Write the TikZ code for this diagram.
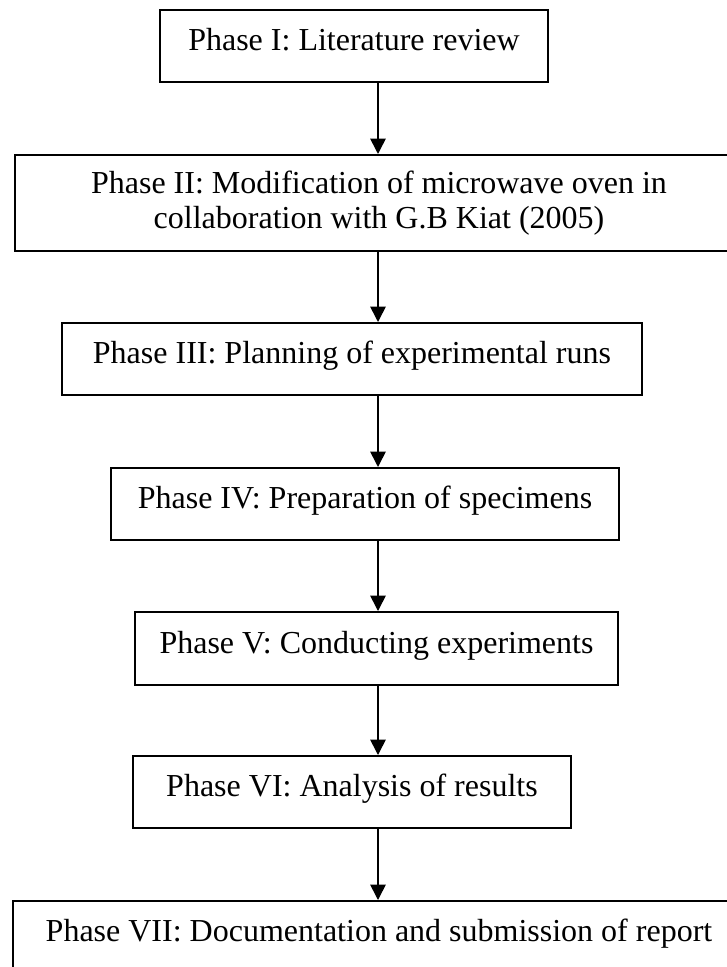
\documentclass[tikz,border=0pt]{standalone}
\usepackage{fontspec}
\setmainfont{Liberation Serif}
\usetikzlibrary{arrows.meta}
\begin{document}
\begin{tikzpicture}[x=0.75pt,y=-0.75pt,
  boxline/.style={draw, line width=1.5pt, font=\fontsize{24}{26.25}\selectfont},
  phasebox/.style={boxline, inner sep=0pt, text height=30.4pt, text depth=23.6pt, minimum height=54pt},
  flow/.style={-{Triangle[length=11.5pt,width=11.5pt]}, line width=1.2pt}]
\clip (0,0) rectangle (727,967);
\fill[white] (0,0) rectangle (727,967);
\coordinate (axis) at (378,0);
\node[phasebox, minimum width=291pt] (p1) at (354,46) {Phase I: Literature review};
\node[boxline, align=center, minimum width=546pt, minimum height=72pt] (p2) at (379,203)
  {Phase II: Modification of microwave oven in\\collaboration with G.B Kiat (2005)};
\node[phasebox, minimum width=435pt] (p3) at (352,359) {Phase III: Planning of experimental runs};
\node[phasebox, minimum width=381pt] (p4) at (365,504) {Phase IV: Preparation of specimens};
\node[phasebox, minimum width=362.25pt, minimum height=54.75pt] (p5) at (376.5,648.5) {Phase V: Conducting experiments};
\node[phasebox, minimum width=328.5pt] (p6) at (352,792) {Phase VI: Analysis of results};
\node[phasebox, minimum width=549pt] (p7) at (379,937) {Phase VII: Documentation and submission of report};
\draw[flow] (p1.south -| axis) -- (p2.north -| axis);
\draw[flow] (p2.south -| axis) -- (p3.north -| axis);
\draw[flow] (p3.south -| axis) -- (p4.north -| axis);
\draw[flow] (p4.south -| axis) -- (p5.north -| axis);
\draw[flow] (p5.south -| axis) -- (p6.north -| axis);
\draw[flow] (p6.south -| axis) -- (p7.north -| axis);
\end{tikzpicture}
\end{document}
